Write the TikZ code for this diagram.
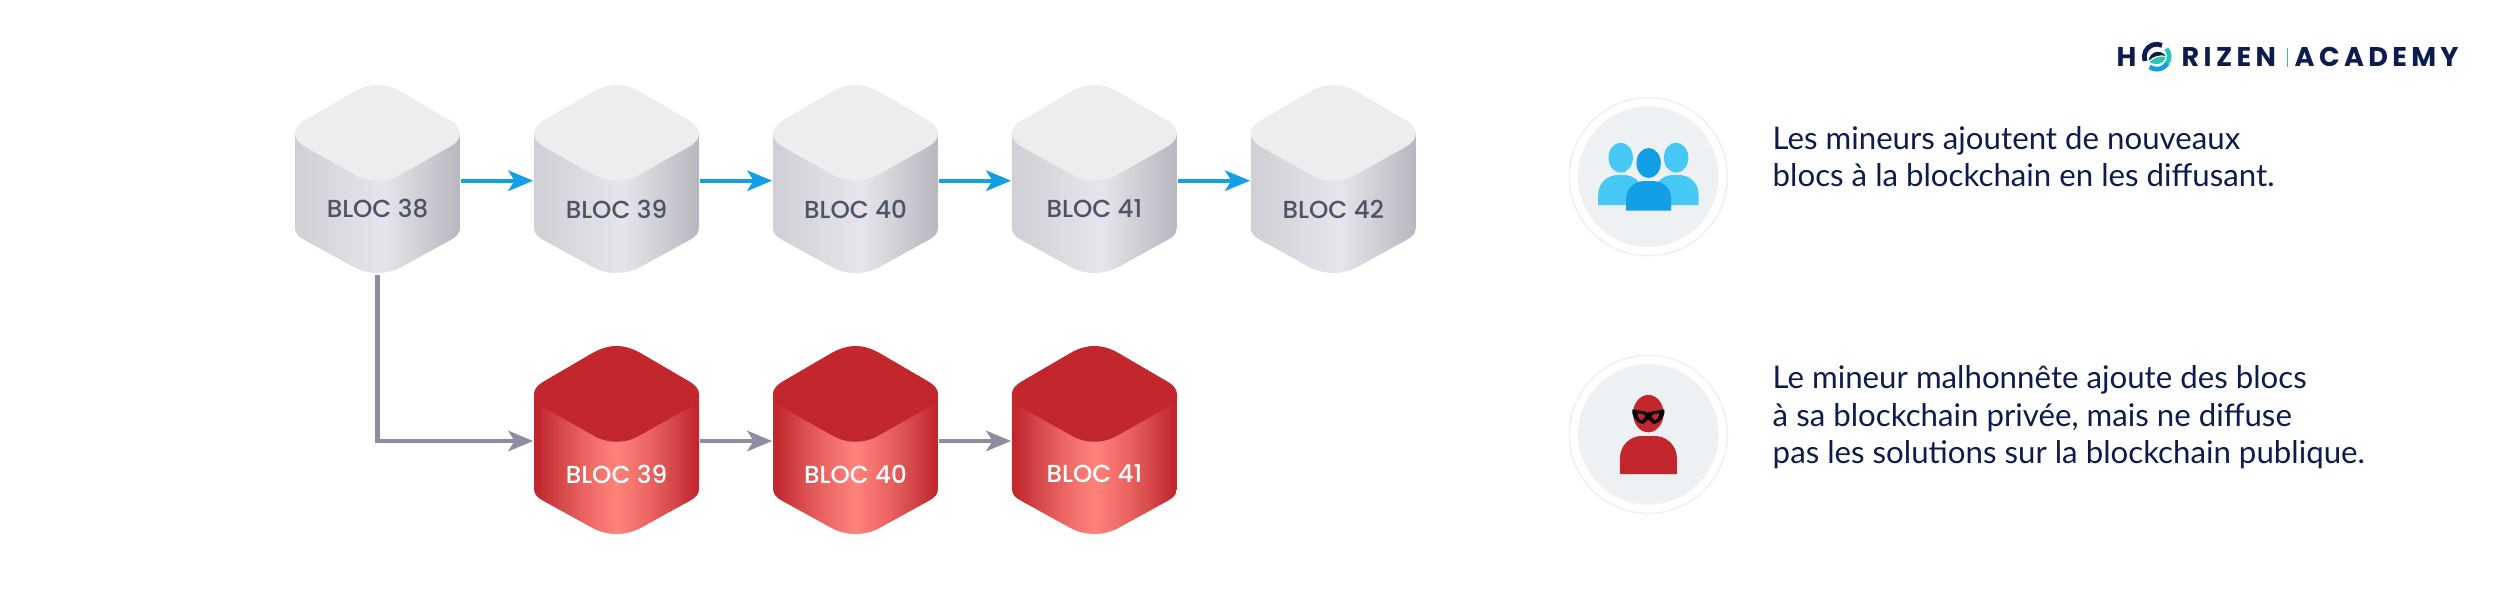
\documentclass[tikz,border=0pt]{standalone}
\usepackage{fontspec}
\usepackage{xcolor}
\usetikzlibrary{arrows.meta, positioning, calc}
\setmainfont{Lato}
\newfontfamily\blocfont{Poppins Medium}
\newfontfamily\logofont[LetterSpace=16]{Poppins}

\definecolor{grishaut}{HTML}{EDEDEE}
\definecolor{grisa}{HTML}{D0CFD5}
\definecolor{grisb}{HTML}{E6E5EB}
\definecolor{grisc}{HTML}{B8B7BF}
\definecolor{rougehaut}{HTML}{C1272D}
\definecolor{rougea}{HTML}{D5484B}
\definecolor{rougeb}{HTML}{EA6460}
\definecolor{rougec}{HTML}{F47470}
\definecolor{rougeclair}{HTML}{FF8378}
\definecolor{fleche}{HTML}{129FE6}
\definecolor{flechegris}{HTML}{8E8D9F}
\definecolor{encre}{HTML}{0C1C4C}
\definecolor{ardoise}{HTML}{4A5568}
\definecolor{fond}{HTML}{EDF1F4}
\definecolor{bleuclair}{HTML}{46C8F5}
\definecolor{turquoise}{HTML}{2CC4B4}

\pgfdeclarehorizontalshading{blocgris}{100bp}{color(0bp)=(grisa); color(25bp)=(grisa); color(52bp)=(grisb); color(75bp)=(grisc); color(100bp)=(grisc)}
\pgfdeclarehorizontalshading{blocrouge}{100bp}{color(0bp)=(rougehaut); color(26bp)=(rougehaut); color(33bp)=(rougea); color(40bp)=(rougeb); color(45bp)=(rougec); color(50bp)=(rougeclair); color(55bp)=(rougec); color(60bp)=(rougeb); color(67bp)=(rougea); color(74bp)=(rougehaut); color(100bp)=(rougehaut)}

\tikzset{
  pics/blocforme/.style 2 args={code={
    \shade[shading=#1] (-82.5,48) -- (-82.5,143) .. controls (-82.5,148) and (-79,152) .. (-73,155)
      -- (-24,182) .. controls (-9,190) and (9,190) .. (24,182) -- (73,155)
      .. controls (79,152) and (82.5,148) .. (82.5,143) -- (82.5,48) -- cycle;
    \fill[#2] (0,0) .. controls (-9,0) and (-17,3) .. (-24,7) -- (-72,35)
      .. controls (-79,39) and (-82.5,43) .. (-82.5,48) .. controls (-82.5,54) and (-79,58) .. (-72,62)
      -- (-24,89) .. controls (-9,98) and (9,98) .. (24,89) -- (72,62)
      .. controls (79,58) and (82.5,54) .. (82.5,48) .. controls (82.5,43) and (79,39) .. (72,35)
      -- (24,7) .. controls (17,3) and (9,0) .. (0,0) -- cycle;
  }},
  blocbox/.style={minimum width=1.65cm, minimum height=1.88cm, inner sep=0pt},
  bloctxt/.style={font=\blocfont\fontsize{7}{9}\selectfont, inner sep=0pt},
  lien/.style={line width=1.25pt, -{Stealth[length=7.1pt, width=5.8pt, inset=1.8pt]}},
  disque/.style={circle, fill=fond, minimum size=1.406cm, inner sep=0pt},
  anneau/.style={circle, draw=fond, line width=0.45pt, minimum size=1.58cm, inner sep=0pt},
  legende/.style={anchor=north west, align=left, inner sep=0pt, text=encre, font=\fontsize{8.88}{10.7}\selectfont},
  logo/.style={anchor=base west, inner sep=0pt, text=encre, font=\logofont\bfseries\fontsize{7.7}{9}\selectfont}
}

\begin{document}
\begin{tikzpicture}[x=0.01cm, y=-0.01cm]
  \useasboundingbox (0,0) rectangle (2501,615);

  % chaine publique
  \foreach \nom/\x/\lab in {a38/377.5/BLOC 38, a39/616.5/BLOC 39, a40/855.5/BLOC 40, a41/1094.4/BLOC 41, a42/1333.3/BLOC 42} {
      \pic at (\x,85) {blocforme={blocgris}{grishaut}};
      \node[blocbox] (\nom) at (\x,180.7) {};
      \node[bloctxt, text=ardoise] (t\nom) at (\x,209) {\lab};
  }
  % chaine privee
  \foreach \nom/\x/\lab in {r39/616.5/BLOC 39, r40/855.5/BLOC 40, r41/1094.4/BLOC 41} {
      \pic at (\x,346) {blocforme={blocrouge}{rougehaut}};
      \node[blocbox] (\nom) at (\x,441) {};
      \node[bloctxt, text=white] (t\nom) at (\x,474) {\lab};
  }

  % liens
  \foreach \a/\b in {a38/a39, a39/a40, a40/a41, a41/a42} {
      \draw[lien, fleche] (\a) -- (\b);
  }
  \draw[lien, flechegris] (a38.south) |- (r39.west);
  \draw[lien, flechegris] (r39) -- (r40);
  \draw[lien, flechegris] (r40) -- (r41);

  % icones
  \node[anneau] (c1) at (1648.3,176.7) {};
  \node[disque] (d1) at (c1) {};
  \node[anneau] (c2) at (1648.3,434.3) {};
  \node[disque] (d2) at (c2) {};

  \begin{scope}[shift={(d1.center)}]
    \foreach \dx in {-27.6,27.8} {
        \fill[bleuclair] (\dx,-19) ellipse [x radius=12.2, y radius=15];
        \fill[bleuclair] (\dx-22.5,28.3) -- (\dx-22.5,18) .. controls (\dx-22.5,6) and (\dx-13,-1.7) .. (\dx-3,-1.7)
          -- (\dx+3,-1.7) .. controls (\dx+13,-1.7) and (\dx+22.5,6) .. (\dx+22.5,18) -- (\dx+22.5,28.3) -- cycle;
    }
    \fill[fleche] (0.3,-13.7) ellipse [x radius=12.2, y radius=15];
    \fill[fleche] (-22.2,34) -- (-22.2,22) .. controls (-22.2,11) and (-13,4.3) .. (-4,4.3)
      -- (4,4.3) .. controls (14,4.3) and (22.8,11) .. (22.8,22) -- (22.8,34) -- cycle;
  \end{scope}

  \begin{scope}[shift={(d2.center)}]
    \fill[rougehaut] (0,-20.7) ellipse [x radius=15.3, y radius=18.7];
    \fill[rougehaut] (-28.4,39.7) -- (-28.4,24) .. controls (-28.4,10) and (-17,1.7) .. (-7,1.7)
      -- (7,1.7) .. controls (17,1.7) and (28.6,10) .. (28.6,24) -- (28.6,39.7) -- cycle;
    % masque
    \fill[black] (-16,-25) .. controls (-10,-23.5) and (-4,-23.5) .. (0,-21.5) .. controls (4,-23.5) and (10,-23.5) .. (16,-25)
      -- (16,-21) .. controls (14,-14) and (9,-10.5) .. (6,-10.5) .. controls (3,-10.5) and (2,-14.5) .. (0,-14.5)
      .. controls (-2,-14.5) and (-3,-10.5) .. (-6,-10.5) .. controls (-9,-10.5) and (-14,-14) .. (-16,-21) -- cycle;
    \fill[rougehaut] (-11,-21) .. controls (-8,-21) and (-5,-20.5) .. (-3,-18.5) .. controls (-4,-15.5) and (-6,-14) .. (-7,-14) .. controls (-9,-14.5) and (-10.5,-17.5) .. (-11,-21) -- cycle;
    \fill[rougehaut] (11,-21) .. controls (8,-21) and (5,-20.5) .. (3,-18.5) .. controls (4,-15.5) and (6,-14) .. (7,-14) .. controls (9,-14.5) and (10.5,-17.5) .. (11,-21) -- cycle;
  \end{scope}

  % legendes
  \node[legende] (l1) at (1772,125.5) {Les mineurs ajoutent de nouveaux\\blocs à la blockchain en les diffusant.};
  \node[legende] (l2) at (1772,365) {Le mineur malhonnête ajoute des blocs\\à sa blockchain privée, mais ne diffuse\\pas les solutions sur la blockchain publique.};

  % logo
  \node[logo] (h) at (2116,67) {H};
  \node[logo] (rz) at (2181,67) {RIZEN};
  \node[logo] (ac) at (2294,67) {ACADEMY};
  \draw[turquoise, line width=0.3pt] (2287.7,48) -- (2287.7,67);
  \coordinate (o) at (2156.7,56.7);
  \draw[encre, line width=1.35pt] ([shift={(-200:12.5)}]o) arc[start angle=-200, end angle=-65, radius=12.5];
  \draw[turquoise, line width=1.35pt] ([shift={(-40:12.5)}]o) arc[start angle=-40, end angle=30, radius=12.5];
  \draw[fleche, line width=1.35pt] ([shift={(30:12.5)}]o) arc[start angle=30, end angle=125, radius=12.5];
  \fill[encre] ($(o)+(-8,4)$) .. controls ($(o)+(-7,-5)$) and ($(o)+(3,-8)$) .. ($(o)+(9,-1)$) .. controls ($(o)+(3,-2)$) and ($(o)+(-3,-1)$) .. ($(o)+(-8,4)$) -- cycle;
  \fill[turquoise] ($(o)+(-7,5)$) .. controls ($(o)+(-3,1)$) and ($(o)+(4,-1)$) .. ($(o)+(9,0)$) .. controls ($(o)+(8,7)$) and ($(o)+(-1,10)$) .. ($(o)+(-7,5)$) -- cycle;
\end{tikzpicture}
\end{document}
